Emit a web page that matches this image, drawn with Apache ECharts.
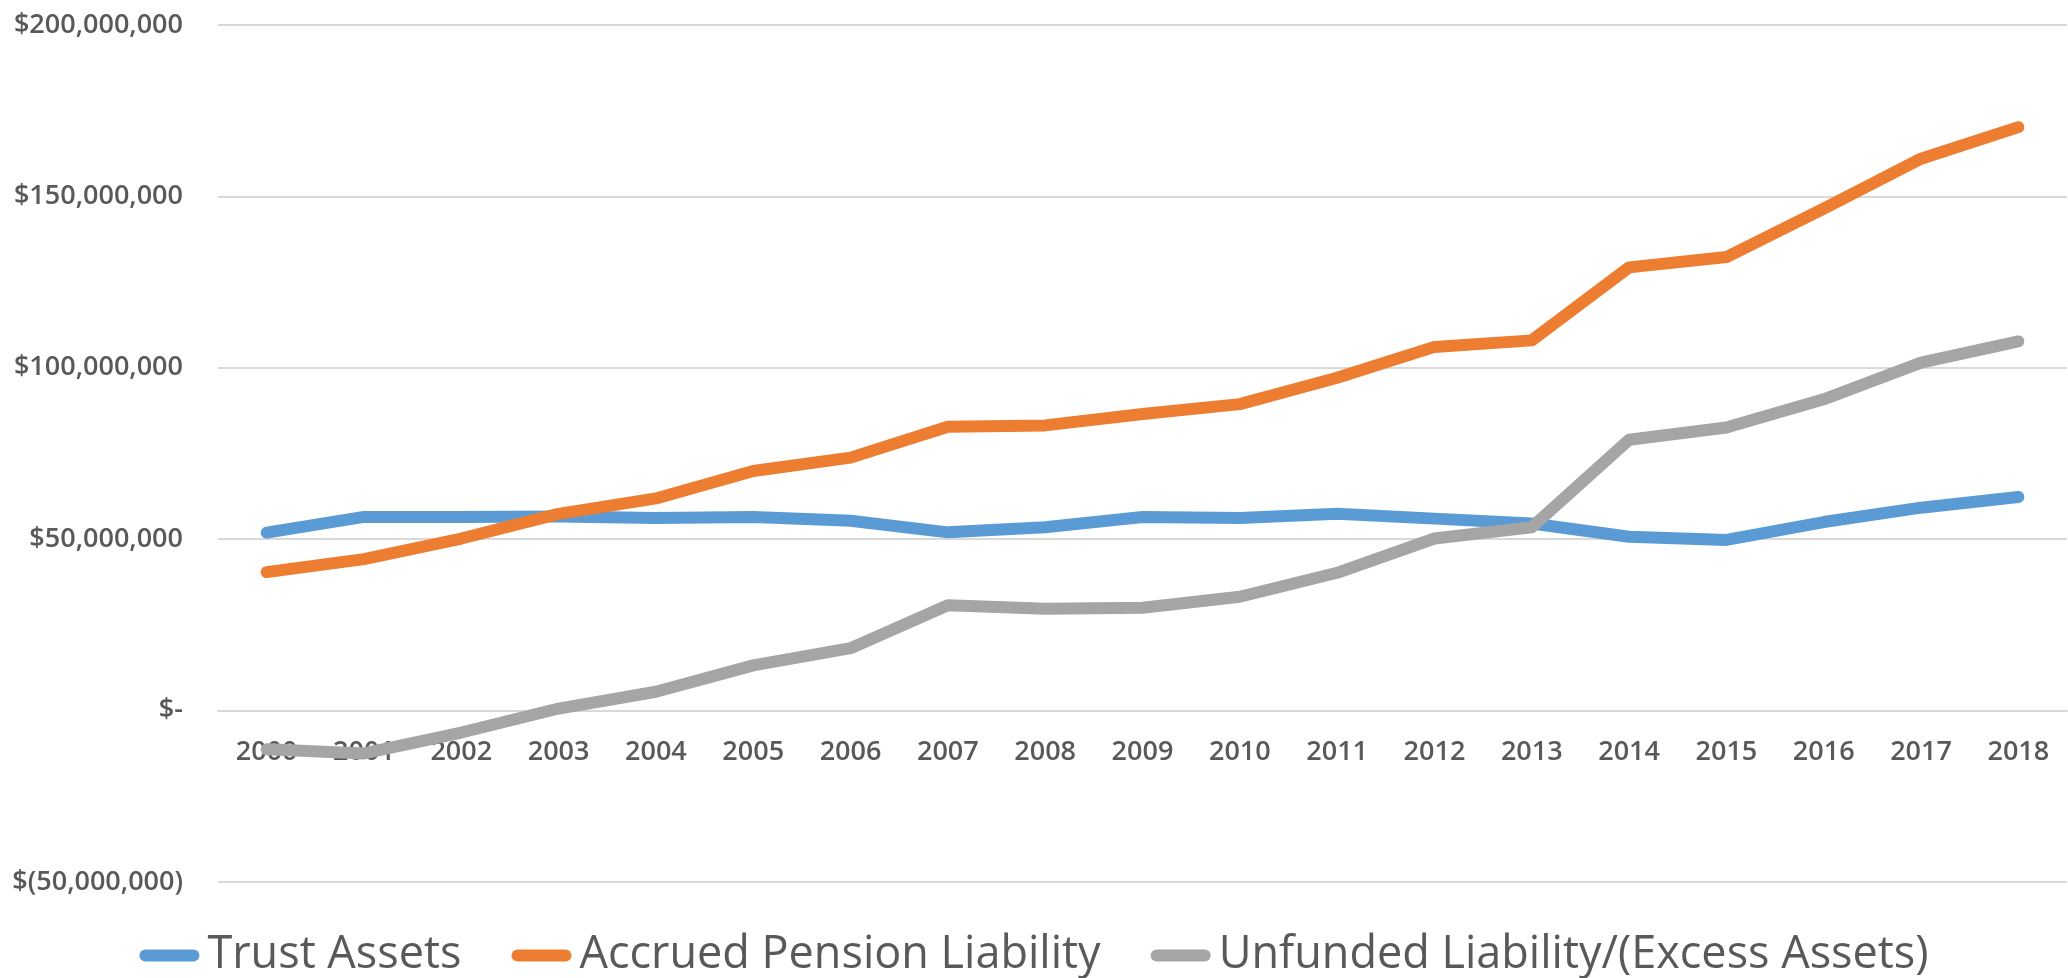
<!DOCTYPE html>
<html>
<head>
<meta charset="utf-8">
<title>Pension chart</title>
<script src="https://cdn.jsdelivr.net/npm/echarts@6/dist/echarts.min.js"></script>
<style>
    html, body { margin: 0; padding: 0; background: #fff; }
    #main { width: 2068px; height: 978px; }
</style>
</head>
<body>
<div id="main"></div>
<script>
// categories (years)
var years = ['2000','2001','2002','2003','2004','2005','2006','2007','2008','2009',
             '2010','2011','2012','2013','2014','2015','2016','2017','2018'];

// series values, in dollars
var trustAssets = [51900000, 56500000, 56500000, 56600000, 56200000, 56500000, 55400000, 52000000, 53500000, 56500000,
                   56200000, 57400000, 56000000, 54600000, 50700000, 49800000, 55000000, 59200000, 62300000];
var accruedLiability = [40400000, 44200000, 50200000, 57400000, 61900000, 69900000, 73800000, 82800000, 83200000, 86500000,
                        89400000, 97100000, 106100000, 108000000, 129300000, 132300000, 146400000, 161000000, 170200000];
var unfundedLiability = [-11300000, -12500000, -6400000, 600000, 5500000, 13200000, 18200000, 30700000, 29700000, 30000000,
                         33200000, 40200000, 50200000, 53500000, 79000000, 82600000, 90800000, 101500000, 107700000];

// y axis ticks
var yTicks = [-50000000, 0, 50000000, 100000000, 150000000, 200000000];

var seriesNames = ['Trust Assets', 'Accrued Pension Liability', 'Unfunded Liability/(Excess Assets)'];
var colors = ['#5B9BD5', '#ED7D31', '#A5A5A5'];

// Excel accounting style label: $200,000,000 / $- / $(50,000,000)
function money(v){
    if (v === 0) return '$-';
    var s = Math.abs(v).toString().replace(/\B(?=(\d{3})+(?!\d))/g, ',');
    return v < 0 ? '$(' + s + ')' : '$' + s;
}

function lineSeries(name, data, color){
    return {
        name: name,
        type: 'line',
        data: data,
        showSymbol: false,
        symbol: 'none',
        lineStyle: {
            color: color,
            width: 12,
            cap: 'round',
            join: 'round'
        },
        itemStyle: { color: color },
        emphasis: { disabled: true }
    };
}

var myChart = echarts.init(document.getElementById('main'));

var font = '"Open Sans", "Noto Sans", sans-serif';

var config = {
    animation: false,
    color: colors,
    textStyle: { fontFamily: font },
    //图例
    legend: {
        top: 928,
        left: 'center',
        itemWidth: 60,
        itemHeight: 12,
        itemGap: 50,
        icon: 'path://M6,0 L54,0 A6,6 0 0 1 54,12 L6,12 A6,6 0 0 1 6,0 Z',
        selectedMode: false,
        textStyle: {
            color: '#595959',
            fontSize: 45,
            fontFamily: font,
            padding: [0, 0, 0, 3]
        },
        data: seriesNames
    },
    //网格
    grid: {
        top: 25,
        left: 218,
        right: 1,
        bottom: 96,
        containLabel: false
    },
    // x 轴: sits on the $- line, labels under it
    xAxis: {
        type: 'category',
        boundaryGap: true,
        data: years,
        offset: -171,
        axisLine: {
            onZero: false,
            lineStyle: { color: '#d9d9d9', width: 2 }
        },
        axisTick: { show: false },
        axisLabel: {
            interval: 0,
            margin: 28,
            color: '#595959',
            fontSize: 27,
            fontWeight: 600,
            fontFamily: font
        },
        splitLine: { show: false }
    },
    // y 轴
    yAxis: {
        type: 'value',
        min: yTicks[0],
        max: yTicks[yTicks.length - 1],
        interval: yTicks[1] - yTicks[0],
        axisLine: { show: false },
        axisTick: { show: false },
        axisLabel: {
            margin: 35,
            color: '#595959',
            fontSize: 27,
            fontWeight: 600,
            fontFamily: font,
            formatter: money
        },
        splitLine: {
            lineStyle: { color: '#d9d9d9', width: 2 }
        }
    },
    series: [
        lineSeries(seriesNames[0], trustAssets, colors[0]),
        lineSeries(seriesNames[1], accruedLiability, colors[1]),
        lineSeries(seriesNames[2], unfundedLiability, colors[2])
    ]
};

myChart.setOption(config);
</script>
</body>
</html>
